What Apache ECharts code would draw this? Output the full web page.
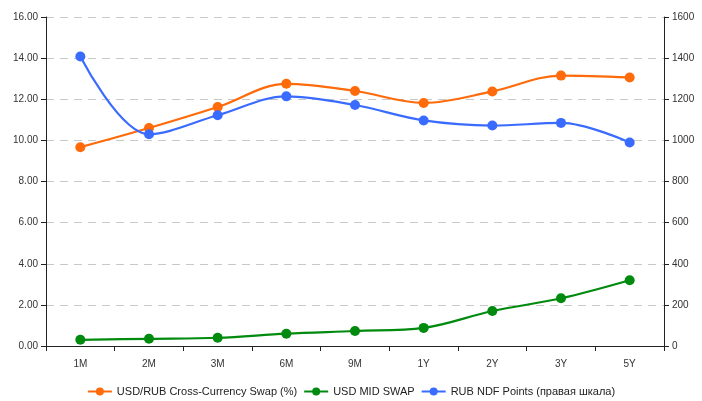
<!DOCTYPE html>
<html><head><meta charset="utf-8">
<script src="https://cdn.jsdelivr.net/npm/echarts@6/dist/echarts.min.js"></script>
<style>html,body{margin:0;padding:0;background:#fff}#c{width:702px;height:401px}</style>
</head><body><div id="c"></div>
<script>
const categories = ['1M','2M','3M','6M','9M','1Y','2Y','3Y','5Y'];
const ccsValues = [9.67, 10.6, 11.62, 12.75, 12.4, 11.82, 12.38, 13.15, 13.06];
const midSwapValues = [0.3, 0.35, 0.4, 0.6, 0.73, 0.88, 1.7, 2.32, 3.2];
const ndfValues = [1408, 1030, 1122, 1214, 1172, 1097, 1072, 1085, 990];
const seriesNames = ['USD/RUB Cross-Currency Swap (%)', 'USD MID SWAP', 'RUB NDF Points (правая шкала)'];
const colors = ['#FF6A0A', '#008A0E', '#3A6BFF'];

const font = 'Liberation Sans, Arial, sans-serif';
const chart = echarts.init(document.getElementById('c'));
function mk(name, data, color, yIdx) {
  return {
    name, type: 'line', data, yAxisIndex: yIdx, smooth: 0.35,
    symbol: 'circle', symbolSize: 10,
    lineStyle: { color, width: 2.2 },
    itemStyle: { color },
    emphasis: { disabled: true }
  };
}
chart.setOption({
  animation: false,
  color: colors,
  grid: { left: 46, right: 38, top: 17, bottom: 55 },
  legend: {
    bottom: -1, left: 'center', itemWidth: 24, itemHeight: 10, itemGap: 6,
    textStyle: { fontFamily: font, fontSize: 11, color: '#222' },
    data: seriesNames
  },
  xAxis: {
    type: 'category', data: categories, boundaryGap: true,
    axisLine: { lineStyle: { color: '#222', width: 1 } },
    axisTick: { show: true, length: 5, lineStyle: { color: '#222' } },
    axisLabel: { fontFamily: font, fontSize: 10, color: '#333', margin: 13 }
  },
  yAxis: [
    {
      type: 'value', min: 0, max: 16, interval: 2,
      axisLine: { show: true, lineStyle: { color: '#222' } },
      axisTick: { show: true, length: 5, lineStyle: { color: '#222' } },
      axisLabel: { fontFamily: font, fontSize: 10, color: '#333', margin: 8, formatter: v => v.toFixed(2) },
      splitLine: { show: true, lineStyle: { color: '#c8c8c8', type: [8, 6] } }
    },
    {
      type: 'value', min: 0, max: 1600, interval: 200, position: 'right',
      axisLine: { show: true, lineStyle: { color: '#222' } },
      axisTick: { show: true, length: 5, lineStyle: { color: '#222' } },
      axisLabel: { fontFamily: font, fontSize: 10, color: '#333', margin: 8, formatter: v => String(v) },
      splitLine: { show: false }
    }
  ],
  series: [
    mk(seriesNames[0], ccsValues, colors[0], 0),
    mk(seriesNames[1], midSwapValues, colors[1], 0),
    mk(seriesNames[2], ndfValues, colors[2], 1)
  ]
});
</script></body></html>
